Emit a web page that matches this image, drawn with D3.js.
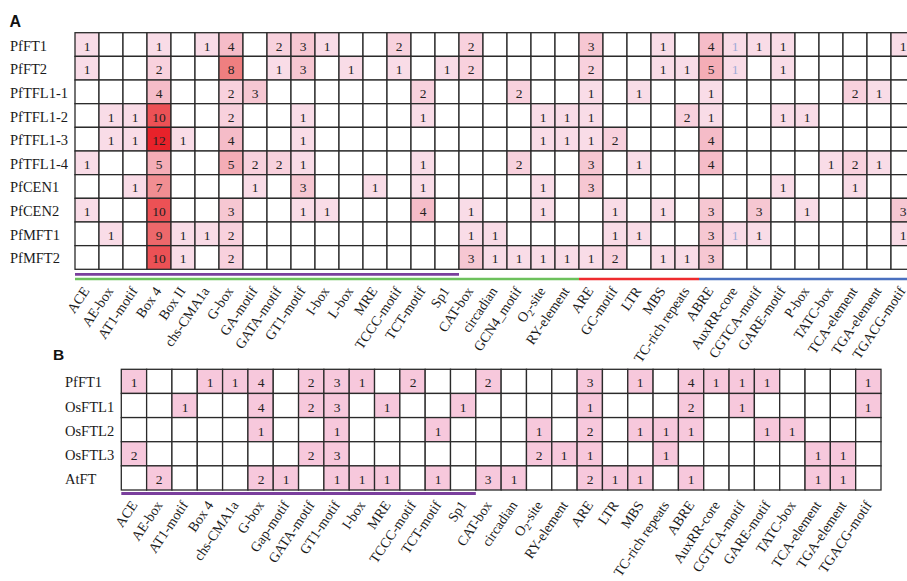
<!DOCTYPE html>
<html>
<head>
<meta charset="utf-8">
<script src="https://cdn.jsdelivr.net/npm/d3@7/dist/d3.min.js"></script>
<style>
  html, body { margin: 0; padding: 0; background: #fff; }
  svg { display: block; -webkit-font-smoothing: antialiased; }
</style>
</head>
<body>
<svg id="chart" width="907" height="581"></svg>
<script>
// ---- Panel A: cis-element counts in Perilla PEBP genes ----
const motifsA = ["ACE", "AE-box", "AT1-motif", "Box 4", "Box II", "chs-CMA1a", "G-box", "GA-motif",
  "GATA-motif", "GT1-motif", "I-box", "L-box", "MRE", "TCCC-motif", "TCT-motif", "Sp1", "CAT-box",
  "circadian", "GCN4_motif", "O2-site", "RY-element", "ARE", "GC-motif", "LTR", "MBS",
  "TC-rich repeats", "ABRE", "AuxRR-core", "CGTCA-motif", "GARE-motif", "P-box", "TATC-box",
  "TCA-element", "TGA-element", "TGACG-motif"];
const genesA = ["PfFT1", "PfFT2", "PfTFL1-1", "PfTFL1-2", "PfTFL1-3", "PfTFL1-4", "PfCEN1", "PfCEN2",
  "PfMFT1", "PfMFT2"];
const countsA = [
  [1,0,0,1,0,1,4,0,2,3,1,0,0,2,0,0,2,0,0,0,0,3,0,0,1,0,4,1,1,1,0,0,0,0,1],
  [1,0,0,2,0,0,8,0,1,3,0,1,0,1,0,1,2,0,0,0,0,2,0,0,1,1,5,1,0,1,0,0,0,0,0],
  [0,0,0,4,0,0,2,3,0,0,0,0,0,0,2,0,0,0,2,0,0,1,0,1,0,0,1,0,0,0,0,0,2,1,0],
  [0,1,1,10,0,0,2,0,0,1,0,0,0,0,1,0,0,0,0,1,1,1,0,0,0,2,1,0,0,1,1,0,0,0,0],
  [0,1,1,12,1,0,4,0,0,1,0,0,0,0,0,0,0,0,0,1,1,1,2,0,0,0,4,0,0,0,0,0,0,0,0],
  [1,0,0,5,0,0,5,2,2,1,0,0,0,0,1,0,0,0,2,0,0,3,0,1,0,0,4,0,0,0,0,1,2,1,0],
  [0,0,1,7,0,0,0,1,0,3,0,0,1,0,1,0,0,0,0,1,0,3,0,0,0,0,0,0,0,1,0,0,1,0,0],
  [1,0,0,10,0,0,3,0,0,1,1,0,0,0,4,0,1,0,0,1,0,0,1,0,1,0,3,0,3,0,1,0,0,0,3],
  [0,1,0,9,1,1,2,0,0,0,0,0,0,0,0,0,1,1,0,0,0,0,1,1,0,0,3,1,1,0,0,0,0,0,1],
  [0,0,0,10,1,0,2,0,0,0,0,0,0,0,0,0,3,1,1,1,1,1,2,0,1,1,3,0,0,0,0,0,0,0,0]
];
// column whose count labels are printed faintly
const faintMotifsA = ["AuxRR-core"];
// functional groups under panel A (first motif, last motif, track)
const bandStartA = ["ACE", "ACE", "ARE", "ABRE"];
const bandEndA = ["Sp1", "RY-element", "TC-rich repeats", "TGACG-motif"];
const bandTrackA = [0, 1, 1, 1];
const bandColorA = ["#7a3f9d", "#6cc15c", "#ee2b2e", "#4a70bf"];

// ---- Panel B: comparison with rice and Arabidopsis FT genes ----
const motifsB = ["ACE", "AE-box", "AT1-motif", "Box 4", "chs-CMA1a", "G-box", "Gap-motif", "GATA-motif",
  "GT1-motif", "I-box", "MRE", "TCCC-motif", "TCT-motif", "Sp1", "CAT-box", "circadian", "O2-site",
  "RY-element", "ARE", "LTR", "MBS", "TC-rich repeats", "ABRE", "AuxRR-core", "CGTCA-motif",
  "GARE-motif", "TATC-box", "TCA-element", "TGA-element", "TGACG-motif"];
const genesB = ["PfFT1", "OsFTL1", "OsFTL2", "OsFTL3", "AtFT"];
const countsB = [
  [1,0,0,1,1,4,0,2,3,1,0,2,0,0,2,0,0,0,3,0,1,0,4,1,1,1,0,0,0,1],
  [0,0,1,0,0,4,0,2,3,0,1,0,0,1,0,0,0,0,1,0,0,0,2,0,1,0,0,0,0,1],
  [0,0,0,0,0,1,0,0,1,0,0,0,1,0,0,0,1,0,2,0,1,1,1,0,0,1,1,0,0,0],
  [2,0,0,0,0,0,0,2,3,0,0,0,0,0,0,0,2,1,1,0,0,1,0,0,0,0,0,1,1,0],
  [0,2,0,0,0,2,1,0,1,1,1,0,1,0,3,1,0,0,2,1,1,0,1,0,0,0,0,1,1,0]
];
const bandStartB = ["ACE"];
const bandEndB = ["Sp1"];
const bandColorB = ["#7a3f9d"];

const serif = "'Liberation Serif', 'Times New Roman', serif";
const sans = "'Liberation Sans', Arial, sans-serif";
const gridStroke = "#2a2a2a";

const svg = d3.select("#chart");

const heatA = d3.scaleLinear()
  .domain([1, 4, 8, 12])
  .range(["#f9dce7", "#f5bcc8", "#ef7f80", "#e8222a"]);

function labelText(sel, name) {
  if (name === "O2-site") {
    sel.text("O");
    sel.append("tspan").attr("font-size", 10).attr("dy", 3).text("2");
    sel.append("tspan").attr("dy", -3).text("-site");
  } else {
    sel.text(name);
  }
}

function drawPanel(opts) {
  const { motifs, genes, counts, x0, x1, y0, y1, fill, rowLabelX, faint } = opts;
  const x = d3.scaleBand().domain(motifs).range([x0, x1]);
  const y = d3.scaleBand().domain(genes).range([y0, y1]);
  const g = svg.append("g");

  const cells = [];
  genes.forEach((gene, i) => motifs.forEach((m, j) => cells.push({ gene, motif: m, v: counts[i][j] })));

  g.selectAll("rect.cell").data(cells).join("rect")
    .attr("class", "cell")
    .attr("x", d => x(d.motif))
    .attr("y", d => y(d.gene))
    .attr("width", x.bandwidth())
    .attr("height", y.bandwidth())
    .attr("fill", d => d.v > 0 ? fill(d.v) : "#ffffff")
    .attr("stroke", gridStroke)
    .attr("stroke-width", 1.3);

  // counts, snapped to whole pixels so the thin digits stay crisp
  g.selectAll("text.val").data(cells.filter(d => d.v > 0)).join("text")
    .attr("class", "val")
    .attr("x", d => Math.round(x(d.motif) + x.bandwidth() / 2))
    .attr("y", d => Math.round(y(d.gene) + y.bandwidth() / 2 + 1))
    .attr("text-anchor", "middle")
    .attr("dominant-baseline", "central")
    .attr("font-family", serif)
    .attr("font-size", 13.5)
    .attr("fill", d => faint.includes(d.motif) ? "#9ea9d6" : "#222222")
    .text(d => d.v);

  // gene names
  g.selectAll("text.row").data(genes).join("text")
    .attr("class", "row")
    .attr("x", rowLabelX)
    .attr("y", d => y(d) + y.bandwidth() / 2 + 1)
    .attr("dominant-baseline", "central")
    .attr("font-family", serif)
    .attr("font-size", 14.5)
    .attr("fill", "#1a1a1a")
    .text(d => d);

  return { x, y, g };
}

function drawMotifLabels(g, x, motifs, yBase, dx) {
  g.selectAll("text.col").data(motifs).join("text")
    .attr("class", "col")
    .attr("font-family", serif)
    .attr("font-size", 14)
    .attr("fill", "#1a1a1a")
    .attr("text-anchor", "end")
    .attr("transform", d => `translate(${x(d) + x.bandwidth() / 2 + dx},${yBase}) rotate(-56)`)
    .each(function (d) { labelText(d3.select(this), d); });
}

// Panel A
const A = drawPanel({
  motifs: motifsA, genes: genesA, counts: countsA,
  x0: 75, x1: 75 + 24 * motifsA.length, y0: 32.7, y1: 269.3,
  fill: heatA, rowLabelX: 10, faint: faintMotifsA
});
bandStartA.forEach((s, i) => {
  const yy = bandTrackA[i] === 0 ? 274.3 : 279;
  A.g.append("line")
    .attr("x1", A.x(s)).attr("x2", A.x(bandEndA[i]) + A.x.bandwidth())
    .attr("y1", yy).attr("y2", yy)
    .attr("stroke", bandColorA[i])
    .attr("stroke-width", bandTrackA[i] === 0 ? 2.8 : 2.4);
});
drawMotifLabels(A.g, A.x, motifsA, 291, 3);

// Panel B
const B = drawPanel({
  motifs: motifsB, genes: genesB, counts: countsB,
  x0: 121.3, x1: 881, y0: 369.3, y1: 490,
  fill: () => "#f7c8dc", rowLabelX: 65, faint: []
});
bandStartB.forEach((s, i) => {
  B.g.append("line")
    .attr("x1", B.x(s)).attr("x2", B.x(bandEndB[i]) + B.x.bandwidth())
    .attr("y1", 493.5).attr("y2", 493.5)
    .attr("stroke", bandColorB[i])
    .attr("stroke-width", 2.8);
});
drawMotifLabels(B.g, B.x, motifsB, 505, 4);

// panel letters
svg.append("text").attr("x", 9.5).attr("y", 26.5)
  .attr("font-family", sans).attr("font-weight", "bold").attr("font-size", 16)
  .attr("fill", "#111").text("A");
svg.append("text").attr("x", 53).attr("y", 359.5)
  .attr("font-family", sans).attr("font-weight", "bold").attr("font-size", 15.5)
  .attr("fill", "#111").text("B");
</script>
</body>
</html>
